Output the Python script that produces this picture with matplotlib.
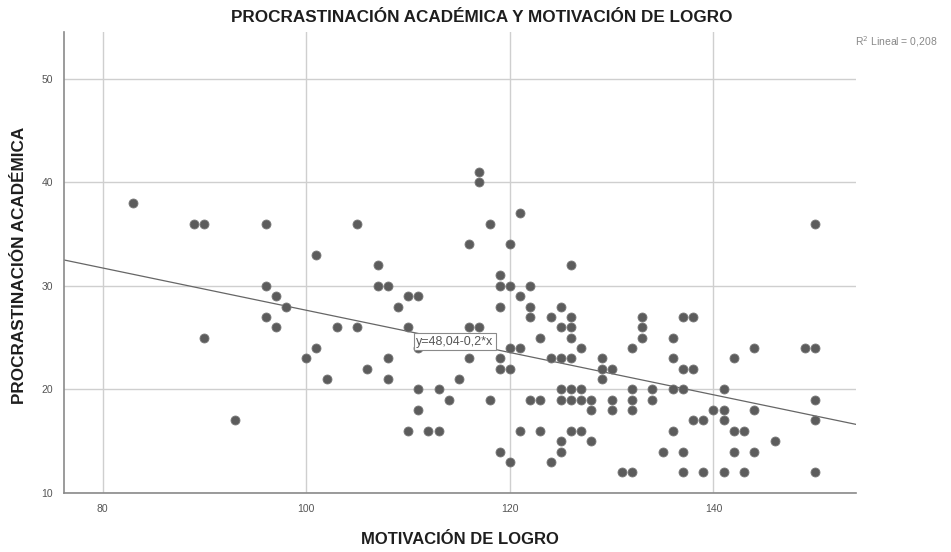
import matplotlib.pyplot as plt
import numpy as np

# Motivación de logro (x) vs procrastinación académica (y)
motivacion = [83, 89, 90, 96, 101, 96, 97, 98, 96, 97, 90, 103, 101, 100, 102, 93,
              105, 105,
              117, 117, 118, 121, 116, 120, 107, 107, 108, 119, 119, 120, 122, 110, 111,
              121, 109, 119, 122, 122, 124, 110, 116, 117, 111, 120, 121, 123, 108, 116,
              119, 124, 106, 119, 120, 108, 115, 111, 113, 114, 118, 122, 123, 111, 110,
              112, 113, 121, 123, 119, 120, 124,
              126, 125, 126, 125, 126, 126, 127, 125, 126, 129, 129, 130, 129, 133, 133,
              133, 132, 137, 138, 136, 136, 137, 138, 144, 149, 150, 142, 125, 126, 127,
              132, 134, 136, 137, 141, 125, 126, 127, 128, 130, 132, 134, 150, 128, 130,
              132, 140, 141, 144, 138, 139, 141, 150, 126, 127, 136, 142, 143, 125, 128,
              146, 125, 135, 137, 142, 144, 131, 132, 137, 139, 141, 143, 150, 150]
procrastinacion = [38, 36, 36, 36, 33, 30, 29, 28, 27, 26, 25, 26, 24, 23, 21, 17,
                   36, 26,
                   41, 40, 36, 37, 34, 34, 32, 30, 30, 31, 30, 30, 30, 29, 29,
                   29, 28, 28, 28, 27, 27, 26, 26, 26, 24, 24, 24, 25, 23, 23,
                   23, 23, 22, 22, 22, 21, 21, 20, 20, 19, 19, 19, 19, 18, 16,
                   16, 16, 16, 16, 14, 13, 13,
                   32, 28, 27, 26, 26, 25, 24, 23, 23, 23, 22, 22, 21, 27, 26,
                   25, 24, 27, 27, 25, 23, 22, 22, 24, 24, 24, 23, 20, 20, 20,
                   20, 20, 20, 20, 20, 19, 19, 19, 19, 19, 19, 19, 19, 18, 18,
                   18, 18, 18, 18, 17, 17, 17, 17, 16, 16, 16, 16, 16, 15, 15,
                   15, 14, 14, 14, 14, 14, 12, 12, 12, 12, 12, 12, 12, 36]

# Linear fit as reported in the chart
intercepto = 48.04
pendiente = -0.204
r2 = "0,208"

x_ticks = [80, 100, 120, 140]
y_ticks = [10, 20, 30, 40, 50]

fig = plt.figure(figsize=(9.51, 5.52), dpi=100)
ax = fig.add_axes([64 / 951, 1 - 493 / 552, (856 - 64) / 951, (493 - 32) / 552])

ax.set_xlim(76.2, 154)
ax.set_ylim(10, 54.5)

# Grid
ax.set_xticks(x_ticks)
ax.set_yticks(y_ticks)
ax.grid(True, color='#cfcfcf', linewidth=1.0)
ax.set_axisbelow(True)

for s in ['top', 'right']:
    ax.spines[s].set_visible(False)
for s in ['left', 'bottom']:
    ax.spines[s].set_color('#8a8a8a')
    ax.spines[s].set_linewidth(1.2)

ax.tick_params(length=0, labelsize=7.5, labelcolor='#555555', pad=8)
for lab in ax.get_xticklabels() + ax.get_yticklabels():
    lab.set_family('Liberation Sans')

# Scatter
ax.scatter(motivacion, procrastinacion, s=42, color='#5c5c5c',
           edgecolors='#7a7a7a', linewidths=0.6, zorder=3)

# Regression line
xl = np.array(ax.get_xlim())
ax.plot(xl, intercepto + pendiente * xl, color='#666666', linewidth=0.9, zorder=2)

ax.text(110.8, 24.6, "y=48,04-0,2*x", fontsize=9, color='#555555',
        family='Liberation Sans', ha='left', va='center', zorder=4,
        bbox=dict(boxstyle='square,pad=0.2', facecolor='white',
                  edgecolor='#8a8a8a', linewidth=0.8))

fig.text(482 / 951, 1 - 18 / 552, "PROCRASTINACIÓN ACADÉMICA Y MOTIVACIÓN DE LOGRO",
         ha='center', va='center', fontsize=12.3, fontweight='bold',
         family='Liberation Sans', color='#1e1e1e')
fig.text(460 / 951, 1 - 540 / 552, "MOTIVACIÓN DE LOGRO",
         ha='center', va='center', fontsize=12, fontweight='bold',
         family='Liberation Sans', color='#1e1e1e')
fig.text(20 / 951, 1 - 265 / 552, "PROCRASTINACIÓN ACADÉMICA",
         ha='center', va='center', rotation=90, fontsize=12.3, fontweight='bold',
         family='Liberation Sans', color='#1e1e1e')
fig.text(855 / 951, 1 - 42 / 552, "R$^2$ Lineal = " + r2,
         ha='left', va='center', fontsize=7.5, color='#888888',
         family='Liberation Sans')

fig.savefig('out.png', dpi=100)
